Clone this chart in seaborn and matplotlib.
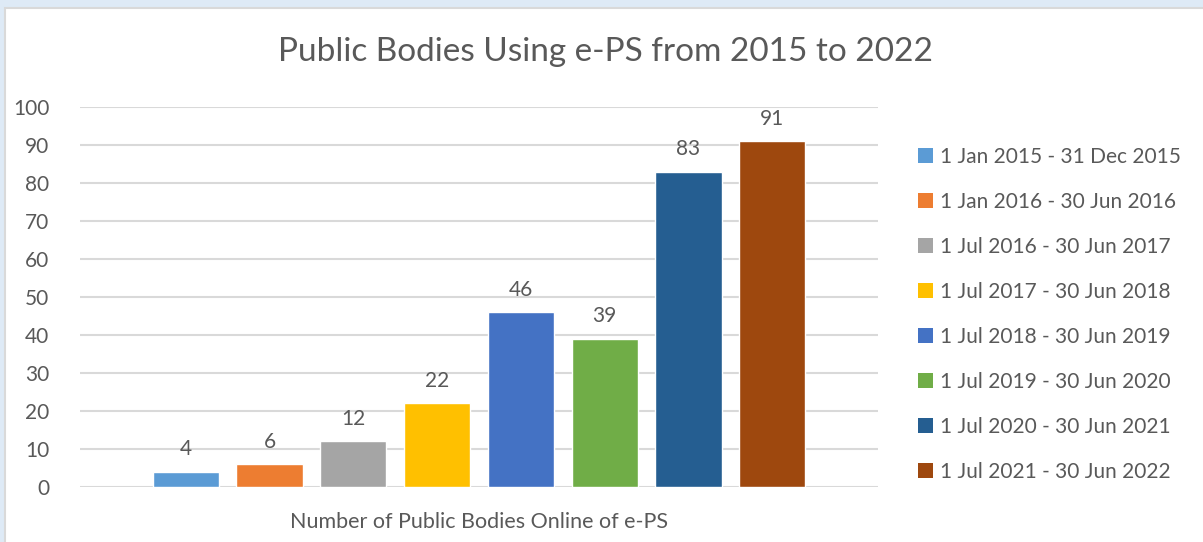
import matplotlib
matplotlib.use("Agg")
import matplotlib.pyplot as plt
import seaborn as sns
import pandas as pd
from matplotlib.patches import Rectangle

periods = [
    "1 Jan 2015 - 31 Dec 2015",
    "1 Jan 2016 - 30 Jun 2016",
    "1 Jul 2016 - 30 Jun 2017",
    "1 Jul 2017 - 30 Jun 2018",
    "1 Jul 2018 - 30 Jun 2019",
    "1 Jul 2019 - 30 Jun 2020",
    "1 Jul 2020 - 30 Jun 2021",
    "1 Jul 2021 - 30 Jun 2022",
]
values = [4, 6, 12, 22, 46, 39, 83, 91]
category = "Number of Public Bodies Online of e-PS"
colors = ["#5B9BD5", "#ED7D31", "#A5A5A5", "#FFC000",
          "#4472C4", "#70AD47", "#255E91", "#9E480E"]
yticks = [0, 10, 20, 30, 40, 50, 60, 70, 80, 90, 100]
title = "Public Bodies Using e-PS from 2015 to 2022"

df = pd.DataFrame({"category": [category] * len(periods),
                   "period": periods, "value": values})

sns.set_theme(style="white")
plt.rcParams["font.family"] = ["Lato", "DejaVu Sans"]
TXT = "#595959"
GRID = "#D9D9D9"

fig = plt.figure(figsize=(12.03, 5.42), dpi=100)
fig.patch.set_facecolor("#DEEAF6")
fig.patches.append(Rectangle((5 / 1203, -0.1), 1.2, (542 - 8) / 542 + 0.1,
                             transform=fig.transFigure, facecolor="white",
                             edgecolor=GRID, linewidth=1.5, zorder=-5))

ax = fig.add_axes([80 / 1203, 55 / 542, 798 / 1203, 380 / 542])
ax.set_zorder(2)
ax.set_facecolor("none")
sns.barplot(data=df, x="category", y="value", hue="period", hue_order=periods,
            palette=colors, saturation=1, width=0.84, gap=0.21, ax=ax,
            legend=False, zorder=3)

ax.set_ylim(0, 100)
ax.set_xlim(-0.5, 0.5)
ax.set_yticks(yticks)
ax.set_yticklabels([str(t) for t in yticks])
for t in yticks:
    ax.axhline(t, color=GRID, linewidth=1.5, zorder=1)
for s in ax.spines.values():
    s.set_visible(False)
ax.tick_params(axis="y", length=0, pad=22, labelsize=15, labelcolor=TXT)
ax.tick_params(axis="x", length=0, pad=18, labelsize=15.5, labelcolor=TXT)
ax.set_xlabel("")
ax.set_ylabel("")

for cont in ax.containers:
    ax.bar_label(cont, padding=9, fontsize=15, color=TXT)

fig.text(606 / 1203, 1 - 52 / 542, title, ha="center", va="center",
         fontsize=24, color=TXT)

handles = [Rectangle((0, 0), 1, 1, facecolor=c, edgecolor="none") for c in colors]
leg = fig.legend(handles, periods, loc="upper left",
                 bbox_to_anchor=(918 / 1203, 1 - 147 / 542), frameon=False,
                 fontsize=15, handlelength=0.7, handleheight=0.7,
                 handletextpad=0.35, labelspacing=1.2, borderaxespad=0,
                 borderpad=0)
for t in leg.get_texts():
    t.set_color(TXT)

fig.savefig("out.png", dpi=100, facecolor=fig.get_facecolor())
